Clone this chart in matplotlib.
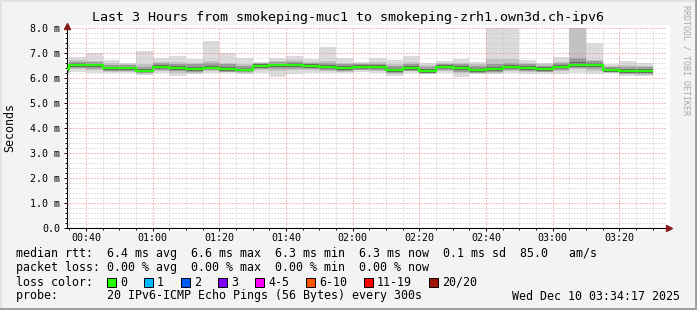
import matplotlib
matplotlib.use('Agg')
import matplotlib.pyplot as plt
from matplotlib.patches import Rectangle
from matplotlib.lines import Line2D

plt.rcParams['font.family'] = ['DejaVu Sans Mono']

# 5 minute bins (start time of each bin)
bin_times = ['00:30', '00:35', '00:40', '00:45', '00:50', '00:55',
             '01:00', '01:05', '01:10', '01:15', '01:20', '01:25',
             '01:30', '01:35', '01:40', '01:45', '01:50', '01:55',
             '02:00', '02:05', '02:10', '02:15', '02:20', '02:25',
             '02:30', '02:35', '02:40', '02:45', '02:50', '02:55',
             '03:00', '03:05', '03:10', '03:15', '03:20', '03:25']
bin_end = '03:30'

# median rtt in ms
median = [6.35, 6.53, 6.51, 6.39, 6.39, 6.29, 6.45, 6.41, 6.37, 6.41,
          6.37, 6.33, 6.48, 6.51, 6.51, 6.48, 6.44, 6.41, 6.44, 6.43,
          6.32, 6.41, 6.29, 6.44, 6.40, 6.33, 6.36, 6.44, 6.41, 6.36,
          6.44, 6.53, 6.53, 6.33, 6.28, 6.28]

# smoke: outer (min/max of the 20 pings)
smoke_max = [6.70, 6.83, 6.99, 6.72, 6.61, 7.09, 6.79, 6.89, 6.76, 7.49,
             7.01, 6.79, 6.65, 6.79, 6.88, 6.76, 7.25, 6.79, 6.65, 6.79,
             6.72, 6.89, 6.61, 6.69, 6.76, 6.65, 8.40, 8.40, 6.72, 6.61,
             6.83, 8.40, 7.39, 6.57, 6.69, 6.61]
smoke_min = [6.20, 6.25, 6.19, 6.20, 6.20, 6.12, 6.20, 6.10, 6.15, 6.20,
             6.20, 6.15, 6.20, 6.05, 6.15, 6.20, 6.20, 6.20, 6.25, 6.20,
             6.10, 6.20, 6.15, 6.20, 6.05, 6.15, 6.15, 6.20, 6.15, 6.15,
             6.15, 6.20, 6.15, 6.20, 6.10, 6.10]

# middle smoke band
band_hi = [6.55, 6.72, 6.70, 6.60, 6.55, 6.55, 6.66, 6.65, 6.62, 6.68,
           6.62, 6.55, 6.62, 6.68, 6.72, 6.66, 6.70, 6.60, 6.60, 6.64,
           6.58, 6.66, 6.52, 6.62, 6.62, 6.55, 6.75, 6.78, 6.62, 6.56,
           6.66, 8.40, 6.74, 6.50, 6.52, 6.50]
band_lo = [6.22, 6.36, 6.32, 6.24, 6.25, 6.18, 6.30, 6.22, 6.22, 6.28,
           6.24, 6.20, 6.32, 6.28, 6.34, 6.32, 6.30, 6.26, 6.32, 6.28,
           6.16, 6.28, 6.18, 6.28, 6.20, 6.20, 6.22, 6.30, 6.24, 6.24,
           6.28, 6.36, 6.30, 6.22, 6.16, 6.14]

# inner smoke band
inner_hi = [6.50, 6.66, 6.64, 6.53, 6.51, 6.46, 6.60, 6.58, 6.55, 6.60,
            6.55, 6.49, 6.60, 6.64, 6.66, 6.62, 6.62, 6.55, 6.57, 6.58,
            6.50, 6.58, 6.45, 6.58, 6.56, 6.49, 6.58, 6.62, 6.57, 6.50,
            6.60, 6.80, 6.68, 6.45, 6.44, 6.43]
inner_lo = [6.25, 6.40, 6.38, 6.28, 6.28, 6.20, 6.33, 6.27, 6.25, 6.31,
            6.26, 6.23, 6.36, 6.35, 6.38, 6.36, 6.33, 6.29, 6.34, 6.31,
            6.20, 6.30, 6.19, 6.32, 6.25, 6.22, 6.24, 6.33, 6.28, 6.26,
            6.32, 6.40, 6.37, 6.23, 6.18, 6.16]

# dark core around the median
core_hi = [6.44, 6.60, 6.58, 6.46, 6.46, 6.38, 6.53, 6.50, 6.46, 6.50,
           6.45, 6.42, 6.56, 6.58, 6.59, 6.56, 6.52, 6.49, 6.52, 6.51,
           6.41, 6.49, 6.37, 6.52, 6.48, 6.42, 6.45, 6.53, 6.50, 6.44,
           6.52, 6.64, 6.61, 6.40, 6.36, 6.36]
core_lo = [6.29, 6.46, 6.44, 6.32, 6.32, 6.23, 6.38, 6.34, 6.30, 6.35,
           6.30, 6.27, 6.41, 6.43, 6.44, 6.41, 6.37, 6.34, 6.37, 6.36,
           6.25, 6.34, 6.22, 6.37, 6.32, 6.26, 6.28, 6.37, 6.34, 6.29,
           6.37, 6.45, 6.45, 6.26, 6.21, 6.20]

x_ticks = ['00:40', '01:00', '01:20', '01:40', '02:00', '02:20',
           '02:40', '03:00', '03:20']
y_ticks = [0, 1, 2, 3, 4, 5, 6, 7, 8]
y_labels = ['0.0', '1.0 m', '2.0 m', '3.0 m', '4.0 m', '5.0 m',
            '6.0 m', '7.0 m', '8.0 m']

loss_labels = ['0', '1', '2', '3', '4-5', '6-10', '11-19', '20/20']
loss_colors = ['#26ff00', '#00b8ff', '#0059ff', '#7e00ff', '#ff00ff',
               '#ff5500', '#ff0000', '#a01200']

graph_start = '00:34:17'
graph_end = '03:34:17'


def to_min(t):
    parts = [int(p) for p in t.split(':')]
    m = parts[0] * 60 + parts[1]
    if len(parts) > 2:
        m += parts[2] / 60.0
    return m


W, H = 697, 310
fig = plt.figure(figsize=(W / 100, H / 100), dpi=100)
fig.patch.set_facecolor('#f3f3f3')

# white canvas a little bigger than the plot area
fig.add_artist(Rectangle((64 / W, 1 - 231 / H), 606 / W, 206 / H,
                         transform=fig.transFigure, facecolor='white',
                         edgecolor='none', zorder=-5))

ax = fig.add_axes([67 / W, 1 - 228 / H, 600 / W, 200 / H])
ax.set_facecolor('white')

edges = [to_min(t) for t in bin_times] + [to_min(bin_end)]
ax.stairs(smoke_max, edges, baseline=smoke_min, fill=True,
          color='#dcdcdc', lw=0, zorder=1)
ax.stairs(band_hi, edges, baseline=band_lo, fill=True,
          color='#c2c2c2', lw=0, zorder=1.1)
ax.stairs(inner_hi, edges, baseline=inner_lo, fill=True,
          color='#9a9a9a', lw=0, zorder=1.15)
ax.stairs(core_hi, edges, baseline=core_lo, fill=True,
          color='#666666', lw=0, zorder=1.2)
ax.stairs(median, edges, baseline=None, color='#26ff00', lw=1.6, zorder=3)

x0, x1 = to_min(graph_start), to_min(graph_end)
ax.set_xlim(x0, x1)
ax.set_ylim(0, 8)

# grid
ax.set_xticks([to_min(t) for t in x_ticks])
ax.set_xticklabels(x_ticks)
minor_x = [m for m in range(35, 215, 5)]
ax.set_xticks(minor_x, minor=True)
ax.set_yticks(y_ticks)
ax.set_yticklabels(y_labels)
ax.set_yticks([i * 0.2 for i in range(41)], minor=True)
ax.set_axisbelow(False)
ax.grid(which='minor', color='#c4c4c4', lw=0.72, linestyle=(0, (1, 2)))
ax.grid(which='major', color='#ee8080', lw=0.72, linestyle=(0, (1, 2)))

ax.tick_params(which='major', length=2.2, width=0.7, labelsize=7.2,
               color='black')
ax.tick_params(which='minor', length=1.2, width=0.7, color='black')
ax.tick_params(axis='y', pad=2.6)
ax.tick_params(axis='x', pad=1.5)

for s in ['top', 'right']:
    ax.spines[s].set_visible(False)
for s in ['left', 'bottom']:
    ax.spines[s].set_linewidth(0.8)
    ax.spines[s].set_color('black')

# arrows at the end of the axes
ax.plot([x1 + 0.6], [0], marker='>', ms=5, color='#8b1a1a', clip_on=False,
        zorder=5)
ax.plot([x0], [8.1], marker='^', ms=5, color='#8b1a1a', clip_on=False,
        zorder=5)

fig.text(348.5 / W, 1 - 18 / H,
         'Last 3 Hours from smokeping-muc1 to smokeping-zrh1.own3d.ch-ipv6',
         ha='center', va='center', fontsize=9.6)
fig.text(10 / W, 1 - 128 / H, 'Seconds', rotation=90, ha='center',
         va='center', fontsize=8.4)
fig.text(686 / W, 1 - 60 / H, 'RRDTOOL / TOBI OETIKER', rotation=-90,
         ha='center', va='center', fontsize=6, color='#a8a8a8')

fs = 8.4
lx = 16 / W
fig.text(lx, 1 - 254 / H,
         'median rtt:  6.4 ms avg  6.6 ms max  6.3 ms min  6.3 ms now  '
         '0.1 ms sd  85.0   am/s', va='center', fontsize=fs)
fig.text(lx, 1 - 268 / H,
         'packet loss: 0.00 % avg  0.00 % max  0.00 % min  0.00 % now',
         va='center', fontsize=fs)
fig.text(lx, 1 - 282 / H, 'loss color:', va='center', fontsize=fs)
bx = 107
for lab, col in zip(loss_labels, loss_colors):
    fig.add_artist(Rectangle((bx / W, 1 - 287 / H), 9 / W, 9 / H,
                             transform=fig.transFigure, facecolor=col,
                             edgecolor='black', lw=0.7))
    fig.text((bx + 13) / W, 1 - 282 / H, lab, va='center', fontsize=fs)
    bx = bx + 13 + len(lab) * 7 + 17
fig.text(lx, 1 - 296 / H,
         'probe:       20 IPv6-ICMP Echo Pings (56 Bytes) every 300s',
         va='center', fontsize=fs)
fig.text(680 / W, 1 - 296 / H, 'Wed Dec 10 03:34:17 2025', ha='right',
         va='center', fontsize=fs)

# 3d frame around the image
fig.add_artist(Line2D([0, 1], [1 - 1 / H, 1 - 1 / H], transform=fig.transFigure,
                      color='#e2e2e2', lw=1.5))
fig.add_artist(Line2D([1 / W, 1 / W], [0, 1], transform=fig.transFigure,
                      color='#e2e2e2', lw=1.5))
fig.add_artist(Line2D([0, 1], [1.5 / H, 1.5 / H], transform=fig.transFigure,
                      color='#9c9c9c', lw=2))
fig.add_artist(Line2D([1 - 1.5 / W, 1 - 1.5 / W], [0, 1],
                      transform=fig.transFigure, color='#9c9c9c', lw=2))

fig.savefig('out.png', dpi=100, facecolor=fig.get_facecolor())
